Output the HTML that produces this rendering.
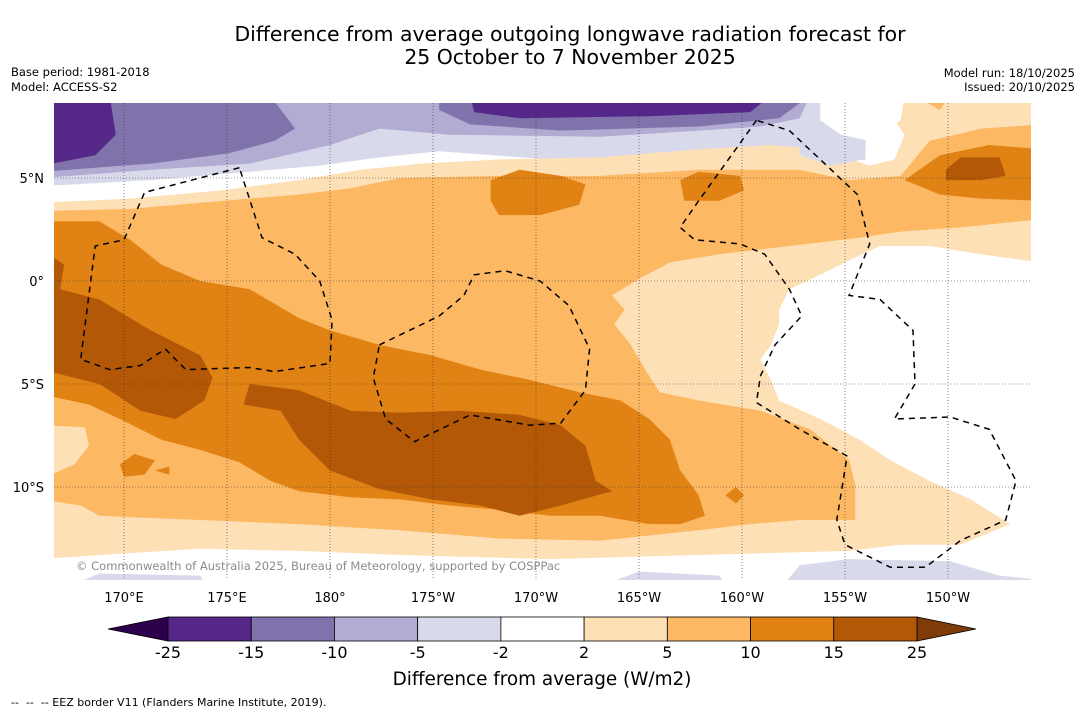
<!DOCTYPE html>
<html><head><meta charset="utf-8"><style>
html,body{margin:0;padding:0;background:#fff;}
svg{display:block;font-family:"DejaVu Sans","Liberation Sans",sans-serif;}
</style></head><body>
<svg id="chart" width="1085" height="713" viewBox="0 0 1085 713">
<defs><clipPath id="mapclip"><rect x="54" y="103" width="977" height="477"/></clipPath></defs>
<text x="570" y="41" font-size="20.4" text-anchor="middle">Difference from average outgoing longwave radiation forecast for</text>
<text x="570" y="64" font-size="20.4" text-anchor="middle">25 October to 7 November 2025</text>
<text x="11" y="76" font-size="11.5">Base period: 1981-2018</text>
<text x="11" y="91" font-size="11.5">Model: ACCESS-S2</text>
<text x="1075" y="77" font-size="11.5" text-anchor="end">Model run: 18/10/2025</text>
<text x="1075" y="91" font-size="11.5" text-anchor="end">Issued: 20/10/2025</text>
<g id="map" clip-path="url(#mapclip)">
<rect x="54" y="103" width="977" height="477" fill="#fff"/>
</g>
<g id="grid"></g>
<g id="dash" clip-path="url(#mapclip)"></g>
<text x="76" y="570" font-size="11.5" fill="#777" fill-opacity="0.85">© Commonwealth of Australia 2025, Bureau of Meteorology, supported by COSPPac</text>
<g id="axes"></g>
<g id="cbar"></g>
<text x="542" y="685" font-size="18.4" text-anchor="middle">Difference from average (W/m2)</text>
<text x="11" y="706" font-size="11" xml:space="preserve" style="white-space:pre">--  --  -- EEZ border V11 (Flanders Marine Institute, 2019).</text>
</svg>
<script>
const lavenderBand=[166,9,206.0,9,206.0,5.9,203.8,5.8,197.9,6.1,190.7,5.9,185.3,6.3,182.4,6.0,179.5,5.6,176.1,5.3,171.3,4.9,166,4.6];
const purpleLight=[166,9,203.3,9,202.8,7.9,200.9,7.5,197.9,7.3,193.1,7.0,185.8,7.1,182.4,7.4,180.0,6.6,176.1,5.7,171.3,5.4,166,5.0];
const purpleMidLeft=[166,9,177.1,9,178.3,7.4,177.3,6.8,175.1,6.2,171.3,5.7,166,5.3];
const purpleMidCenter=[185.3,9,203.3,9,201.8,7.9,197.9,7.5,191.2,7.3,186.8,7.6,185.3,8.3];
const purpleDarkLeft=[166,9,169.3,9,169.6,7.1,168.6,6.1,166,5.6];
const purpleDarkCenter=[186.8,9,201.4,9,200.4,8.2,195.5,8.0,189.2,7.9,187.0,8.2];
const orangePale=[166,3.8,170.3,4.0,174.7,4.4,178.5,4.9,181.5,5.4,184.4,5.7,188.2,5.9,193.1,6.0,197.9,6.4,201.4,6.6,203.8,6.4,206.2,5.6,207.4,5.9,207.9,7.1,207.4,7.8,205.2,8.2,203.8,9,214.5,9,214.5,0.9,211.6,1.3,209.1,1.7,206.7,1.7,205.2,1.0,203.8,0.3,202.3,-0.4,201.8,-1.4,201.8,-2.1,201.4,-3.1,200.9,-3.8,201.4,-4.8,201.8,-5.8,203.8,-6.7,205.7,-7.7,207.2,-8.7,209.1,-9.7,211.1,-10.6,213.0,-11.8,210.6,-12.8,207.7,-12.8,205.2,-13.1,197.9,-13.3,190.7,-13.5,183.4,-13.3,178.5,-13.1,173.7,-13.0,168.8,-13.3,166,-13.5];
const topRightWhite=[203.8,9,207.9,9,207.7,7.8,206.2,6.8,204.8,7.1,203.8,7.8];
const topRightLavender=[202.8,6.8,205.7,6.8,205.9,5.9,204.3,5.6,202.8,6.1];
const orangeLight=[166,3.4,170.3,3.5,173.7,3.8,176.1,4.0,178.5,4.2,181.0,4.5,183.4,5.0,188.2,5.1,193.1,5.1,197.9,5.4,202.8,5.4,205.2,4.9,207.7,5.1,209.1,6.8,211.6,7.4,214.5,7.6,214.5,3.0,210.6,2.6,207.7,2.4,205.7,2.1,202.3,1.7,198.9,1.3,196.5,0.9,195.0,0.1,193.7,-0.7,194.3,-1.4,193.8,-2.1,194.6,-3.1,195.3,-4.3,196.0,-5.4,197.9,-5.8,200.9,-6.3,203.3,-7.2,205.2,-8.7,205.5,-9.9,205.5,-11.6,202.8,-11.6,200.4,-11.8,197.9,-12.1,193.1,-12.6,188.2,-12.5,183.4,-12.1,178.5,-11.8,173.7,-11.6,168.8,-11.4,167.9,-10.9,166,-10.6];
const orangeLightTop=[208.4,9,210.1,9,209.6,8.3];
const paleLeftPatch=[166,-7.0,168.1,-7.1,168.3,-8.0,167.6,-8.9,166,-9.6];
const orangeMain=[166,2.9,168.8,2.9,170.3,2.0,171.8,0.8,173.7,0.0,176.1,-0.4,178.5,-1.8,180.0,-2.4,182.4,-3.1,184.9,-3.6,187.3,-4.3,189.7,-4.8,192.1,-5.4,194.1,-5.8,195.5,-6.7,196.5,-7.7,197.0,-9.2,197.9,-10.4,198.2,-11.4,197.0,-11.8,195.5,-11.8,193.1,-11.4,190.7,-11.4,188.2,-11.1,185.8,-10.9,183.4,-10.6,181.0,-10.5,178.5,-10.2,177.1,-9.7,175.6,-8.8,173.7,-8.2,171.8,-7.7,169.8,-6.7,168.3,-6.0,166,-5.5];
const orangeBlob1=[187.8,4.9,189.2,5.4,191.2,5.1,192.4,4.7,192.1,3.7,190.2,3.2,188.2,3.2,187.8,3.9];
const orangeBlob2=[197.0,4.9,197.9,5.3,199.9,5.1,200.1,4.4,198.9,3.9,197.2,3.9];
const orangeBlob3=[207.9,4.9,209.6,6.1,212.0,6.6,214.5,6.4,214.5,3.9,211.6,4.0,209.6,4.2];
const orangeBlob4=[169.8,-8.9,170.5,-8.4,171.5,-8.7,171.0,-9.4,170.0,-9.5];
const orangeBlob5=[171.5,-9.2,172.2,-9.0,172.2,-9.4];
const orangeBlob6=[199.2,-10.4,199.7,-10.0,200.1,-10.4,199.7,-10.8];
const brownLeft=[166,1.5,167.1,0.8,166.9,-0.4,168.8,-0.9,171.3,-2.4,173.7,-3.6,174.3,-4.7,173.9,-5.8,172.5,-6.7,170.8,-6.3,168.8,-5.0,166,-4.3];
const brownCenter=[176.1,-5.0,178.5,-5.3,181.0,-6.3,183.4,-6.4,186.3,-6.3,189.2,-6.5,191.2,-7.0,192.4,-8.0,192.9,-9.7,193.7,-10.2,191.2,-10.9,189.2,-11.4,187.3,-10.9,184.9,-10.6,182.4,-10.1,180.0,-9.2,178.5,-7.7,177.6,-6.3,175.8,-6.0];
const brownRight=[209.9,5.4,210.6,6.0,212.5,6.0,212.8,5.1,211.6,4.9,209.9,4.9];
const bottomLavRight=[201.8,-15,202.8,-13.8,205.2,-13.5,210.1,-13.6,212.5,-14.3,214.5,-14.5,214.5,-15];
const bottomLavLeft=[166.9,-15,168.8,-14.2,173.7,-14.3,174.2,-15];
const bottomLavMid=[192.6,-15,195.0,-14.1,198.9,-14.3,199.4,-15];
const eezA=[175.6,5.5,171.0,4.3,170.0,2.0,168.6,1.7,167.9,-3.8,169.3,-4.3,170.8,-4.1,172.0,-3.3,173.0,-4.3,176.1,-4.2,177.3,-4.4,180.0,-4.0,180.1,-1.9,179.5,0.0,178.3,1.3,176.7,2.1];
const eezB=[182.4,-3.1,185.3,-1.7,186.5,-0.7,187.0,0.3,188.5,0.5,190.2,0.0,191.6,-1.2,192.6,-3.3,192.4,-5.3,191.2,-6.9,189.7,-7.0,186.8,-6.5,184.1,-7.8,182.7,-6.7,182.1,-4.7];
const eezC=[200.7,7.8,199.7,6.4,197.9,3.9,197.0,2.6,197.7,2.0,199.9,1.8,201.1,1.3,202.3,-0.4,202.9,-1.7,201.6,-3.1,200.9,-4.6,200.7,-5.9,202.8,-7.2,205.1,-8.5,204.6,-11.6,205.0,-12.8,207.2,-13.9,208.9,-13.9,210.6,-12.6,212.8,-11.6,213.3,-9.7,212.0,-7.2,210.1,-6.6,207.4,-6.7,208.4,-5.0,208.3,-2.4,206.7,-0.9,205.2,-0.7,206.2,1.8,205.6,4.2,203.8,5.9,202.3,7.3];
const lonTicks=[170,175,180,185,190,195,200,205,210];
const lonTickLabels=["170°E","175°E","180°","175°W","170°W","165°W","160°W","155°W","150°W"];
const latTicks=[5,0,-5,-10];
const latTickLabels=["5°N","0°","5°S","10°S"];
const cbarBounds=["-25","-15","-10","-5","-2","2","5","10","15","25"];
const cbarColors=["#542788","#8073ac","#b2abd2","#d8daeb","#ffffff","#fee0b6","#fdb863","#e08214","#b35806"];

const NS="http://www.w3.org/2000/svg";
function lonX(lon){return 124+(lon-170)*20.6;}
function latY(lat){return 281-lat*20.6;}
function pts(a){let s=[];for(let i=0;i<a.length;i+=2)s.push(lonX(a[i]).toFixed(1)+","+latY(a[i+1]).toFixed(1));return s.join(" ");}
function el(tag,attrs,parent){const e=document.createElementNS(NS,tag);for(const k in attrs)e.setAttribute(k,attrs[k]);parent.appendChild(e);return e;}
const map=document.getElementById('map');
function region(arr,color,name){
  const p=el('polygon',{points:pts(arr),fill:color},map);
  
  
}
region(lavenderBand,"#d8daeb","contour-minus5-minus2-north");
region(purpleLight,"#b2abd2","contour-minus10-minus5-north");
region(purpleMidLeft,"#8073ac","contour-minus15-minus10-west");
region(purpleMidCenter,"#8073ac","contour-minus15-minus10-center");
region(purpleDarkLeft,"#542788","contour-below-minus15-west");
region(purpleDarkCenter,"#542788","contour-below-minus15-center");
region(orangePale,"#fee0b6","contour-2-5");
region(topRightWhite,"#ffffff","contour-neutral-northeast");
region(topRightLavender,"#d8daeb","contour-minus5-minus2-northeast");
region(orangeLight,"#fdb863","contour-5-10");
region(orangeLightTop,"#fdb863","contour-5-10-top");
region(paleLeftPatch,"#fee0b6","contour-2-5-west-patch");
region(orangeMain,"#e08214","contour-10-15");
region(orangeBlob1,"#e08214","contour-10-15-blob1");
region(orangeBlob2,"#e08214","contour-10-15-blob2");
region(orangeBlob3,"#e08214","contour-10-15-blob3");
region(orangeBlob4,"#e08214","contour-10-15-blob4");
region(orangeBlob5,"#e08214","contour-10-15-blob5");
region(orangeBlob6,"#e08214","contour-10-15-blob6");
region(brownLeft,"#b35806","contour-above-15-west");
region(brownCenter,"#b35806","contour-above-15-center");
region(brownRight,"#b35806","contour-above-15-east");
region(bottomLavRight,"#d8daeb","contour-minus5-minus2-south-east");
region(bottomLavLeft,"#d8daeb","contour-minus5-minus2-south-west");
region(bottomLavMid,"#d8daeb","contour-minus5-minus2-south-mid");

const grid=document.getElementById('grid');
const axes=document.getElementById('axes');
lonTicks.forEach((lon,i)=>{
  const x=lonX(lon);
  const l=el('line',{x1:x,x2:x,y1:103,y2:580,stroke:"#333","stroke-width":0.6,"stroke-dasharray":"1,2"},grid);
  
  
  const t=el('text',{x:x,y:602,"font-size":13,"text-anchor":"middle"},axes);
  t.textContent=lonTickLabels[i];
  
  
});
latTicks.forEach((lat,i)=>{
  const y=latY(lat);
  const l=el('line',{x1:54,x2:1031,y1:y,y2:y,stroke:"#333","stroke-width":0.6,"stroke-dasharray":"1,2"},grid);
  
  
  const t=el('text',{x:44,y:y+5,"font-size":13,"text-anchor":"end"},axes);
  t.textContent=latTickLabels[i];
  
  
});
const dash=document.getElementById('dash');
[eezA,eezB,eezC].forEach(a=>{
  const p=el('polygon',{points:pts(a),fill:"none",stroke:"#000","stroke-width":1.5,"stroke-dasharray":"6,5"},dash);
  
  
});
const cbar=document.getElementById('cbar');
const cx0=168,cx1=917,cy=617,ch=24,bw=(cx1-cx0)/cbarColors.length;
const lt=el('polygon',{points:`108,${cy+ch/2} ${cx0},${cy} ${cx0},${cy+ch}`,fill:"#2d004b",stroke:"#000","stroke-width":0.8},cbar);


const rt=el('polygon',{points:`976,${cy+ch/2} ${cx1},${cy} ${cx1},${cy+ch}`,fill:"#7f3b08",stroke:"#000","stroke-width":0.8},cbar);


cbarColors.forEach((c,i)=>{
  const r=el('rect',{x:cx0+i*bw,y:cy,width:bw,height:ch,fill:c,stroke:"#000","stroke-width":0.8},cbar);
  
  
});
cbarBounds.forEach((b,i)=>{
  const t=el('text',{x:cx0+i*bw,y:658,"font-size":16,"text-anchor":"middle"},cbar);
  t.textContent=b;
  
  
});
</script>
</body></html>
